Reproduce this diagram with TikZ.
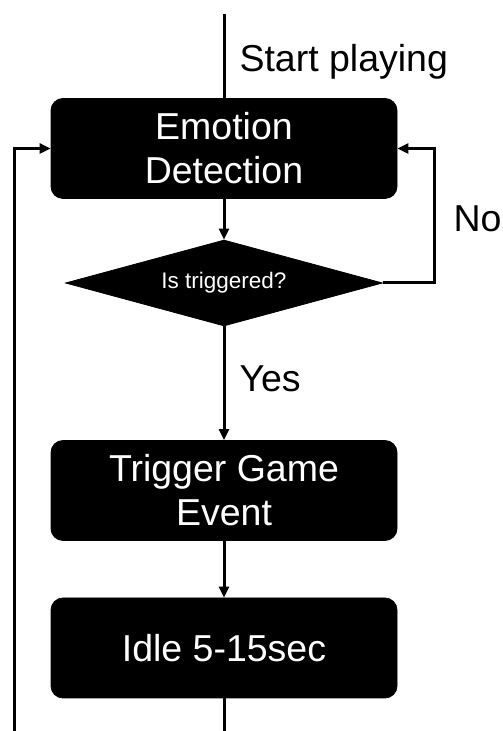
\documentclass[tikz,border=0pt]{standalone}
\usepackage{fontspec}
\setmainfont{Liberation Sans}
\usetikzlibrary{shapes.geometric,arrows.meta}

\begin{document}
\begin{tikzpicture}[x=1pt,y=1pt,line width=3pt,
  box/.style={rectangle,rounded corners=12pt,fill=black,draw=black,line width=0.8pt,
    text=white,minimum width=346pt,minimum height=100pt,align=center,inner sep=0pt,
    font=\fontsize{37.5}{44}\selectfont},
  ask/.style={diamond,shape aspect=3.69,fill=black,draw=black,line width=0.8pt,text=white,
    inner sep=0pt,minimum width=317pt,minimum height=86pt,font=\fontsize{22.5}{26}\selectfont},
  lbl/.style={anchor=base west,inner sep=0pt,font=\fontsize{37.5}{44}\selectfont}]
\useasboundingbox (0,0) rectangle (503,731);
\def\pfeil#1#2{\draw[-{Triangle[length=11pt,width=10pt]}] (#1) -- (#2);}
\coordinate (start) at (224,717);
\coordinate (endmid) at (224,0);
\coordinate (endleft) at (14,0);
\coordinate (noturn) at (434,448);
\node[box] at (224,582.5) (emo) {Emotion\\Detection};
\node[ask] at (224,448) (trig) {Is triggered?};
\node[box] at (224,240.5) (event) {Trigger Game\\Event};
\node[box] at (224,83) (idle) {Idle 5-15sec};

\node[lbl] at (238,659) (startlbl) {Start playing};
\node[lbl] at (452,499) (nolbl) {No};
\node[lbl] at (238,339) (yeslbl) {Yes};

\draw (start) -- (emo);
\pfeil{emo}{trig}
\pfeil{trig}{event}
\pfeil{event}{idle}
\draw (idle) -- (endmid);
\draw[-{Triangle[length=11pt,width=10pt]}] (trig.east) -- (noturn) |- (emo.east);
\draw[-{Triangle[length=11pt,width=10pt]}] (endleft) |- (emo.west);
\end{tikzpicture}
\end{document}
